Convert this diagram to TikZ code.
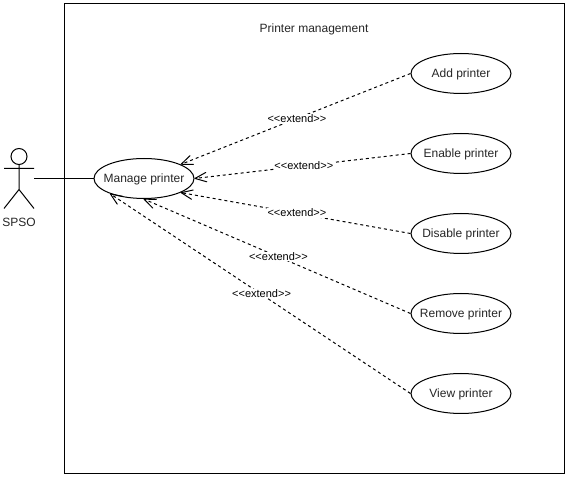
\documentclass[tikz,border=0pt]{standalone}
\usepackage{fontspec}
\setmainfont{Liberation Sans}
\usetikzlibrary{arrows.meta,shapes.geometric}
\newcommand{\uctext}[1]{\makebox[0pt]{\raisebox{-3pt}[0pt][0pt]{#1}}}
\tikzset{
  usecase/.style={draw=black,fill=white,ellipse,minimum width=100*0.75pt,minimum height=40*0.75pt,inner sep=0pt,font=\fontsize{9}{11}\selectfont,text=black!85},
  extendline/.style={draw=black,line width=0.75pt,dash pattern=on 2.25pt off 2.25pt,-{Straight Barb[length=8.5pt,width=10pt,line width=0.75pt,angle'=45,round]}},
  extendlabel/.style={fill=white,inner sep=0.5pt,font=\fontsize{8.25}{10}\selectfont,text=black,xshift=1pt},
  plainline/.style={draw=black,line width=0.75pt},
  caption/.style={font=\fontsize{9}{11}\selectfont,text=black!85,inner sep=0pt}
}
\begin{document}
\begin{tikzpicture}[x=0.75pt,y=-0.75pt,line width=0.75pt]
\useasboundingbox (0,0) rectangle (568,477);
\fill[white] (0,0) rectangle (568,477);
\draw[plainline] (64.5,3.5) rectangle (564.5,473.5);
\node[caption] (title) at (314,29) {Printer management};
% actor
\draw[plainline] (19,156.5) circle (8);
\draw[plainline] (19,164.5) -- (19,189.5) (4,168.5) -- (34,168.5) (4,208.5) -- (19,189.5) -- (34,208.5);
\node[caption] (spso) at (19,222.5) {SPSO};
\coordinate (spsoport) at (34,178.5);
% use cases
\node[usecase] (manage) at (144,178.5) {\uctext{Manage printer}};
\node[usecase] (add) at (461,73.5) {\uctext{Add printer}};
\node[usecase] (enable) at (461,153.5) {\uctext{Enable printer}};
\node[usecase] (disable) at (461,233.5) {\uctext{Disable printer}};
\node[usecase] (remove) at (461,313.5) {\uctext{Remove printer}};
\node[usecase] (view) at (461,393.5) {\uctext{View printer}};
% connectors
\draw[plainline] (spsoport) -- (manage.west);
\path[extendline] (add.west) -- node[extendlabel] (l1) {<{}<extend>{}>} (manage.21);
\path[extendline] (enable.west) -- node[extendlabel] (l2) {<{}<extend>{}>} (manage.east);
\path[extendline] (disable.west) -- node[extendlabel] (l3) {<{}<extend>{}>} (manage.-21);
\path[extendline] (remove.west) -- node[extendlabel] (l4) {<{}<extend>{}>} (manage.269);
\path[extendline] (view.west) -- node[extendlabel] (l5) {<{}<extend>{}>} (manage.204);
\end{tikzpicture}
\end{document}
